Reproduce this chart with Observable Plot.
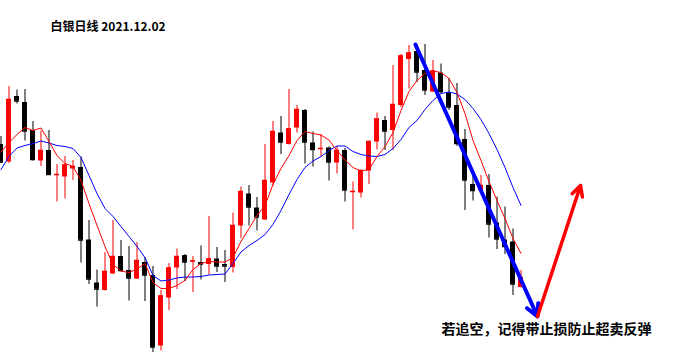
<!DOCTYPE html>
<html>
<head>
<meta charset="utf-8">
<script src="https://cdn.jsdelivr.net/npm/d3@7"></script>
<script src="https://cdn.jsdelivr.net/npm/@observablehq/plot@0.6"></script>
<style>
  html, body { margin: 0; padding: 0; background: #fff; }
  #chart svg { display: block; }
</style>
</head>
<body>
<div id="chart"></div>
<script>
// Silver daily candles (approximate prices)
const opens  = [23.12,22.77,24.08,23.96,23.40,22.79,23.00,22.50,22.47,22.63,22.66,21.21,20.35,20.20,20.53,20.88,20.60,20.43,20.76,20.50,19.09,20.05,20.65,20.90,20.77,20.76,20.72,20.83,20.72,20.66,21.49,22.13,21.85,21.61,22.35,23.35,23.12,23.45,23.80,23.15,23.02,23.05,22.75,23.00,22.16,22.15,22.59,23.17,23.60,23.40,23.90,24.82,24.98,24.60,24.17,24.55,24.15,23.90,23.22,22.32,22.20,22.30,21.55,21.21,21.17,20.26];
const highs  = [23.28,24.28,24.21,24.22,23.58,23.39,23.40,22.72,22.88,22.80,22.87,21.60,20.61,20.96,21.60,21.20,21.08,21.16,20.86,20.68,20.20,20.74,21.03,20.92,20.88,21.09,21.68,21.06,21.00,21.75,22.27,22.30,22.06,23.12,23.58,23.68,24.22,23.90,23.82,23.37,23.32,23.07,23.08,23.04,22.37,22.61,23.19,23.75,23.68,24.70,24.92,25.10,25.12,25.12,24.80,24.73,24.44,24.34,23.42,22.49,22.50,22.52,22.07,21.87,21.43,20.60];
const lows   = [22.74,22.74,23.93,23.19,22.79,22.68,22.50,21.97,22.03,22.40,20.75,20.32,19.87,20.19,20.52,20.57,19.99,20.42,19.98,18.96,18.99,19.80,20.22,20.38,20.16,20.41,20.51,20.56,20.36,20.55,21.24,21.49,21.39,21.60,22.28,22.92,23.11,23.35,22.73,22.67,22.87,22.39,22.53,21.97,21.41,22.05,22.32,23.01,23.00,23.00,23.86,24.23,24.36,24.10,24.16,24.13,23.80,23.08,21.80,21.99,22.19,21.25,21.02,20.92,20.10,20.25];
const closes = [22.77,24.02,23.99,23.39,22.82,23.00,22.52,22.52,22.71,22.68,21.21,20.43,20.23,20.58,20.88,20.60,20.45,20.80,20.51,19.07,20.09,20.65,20.88,20.77,20.79,20.73,20.83,20.69,20.69,21.50,22.18,21.87,21.67,22.40,23.38,23.17,23.43,23.82,23.17,23.02,23.04,22.77,23.00,22.21,22.18,22.60,23.18,23.63,23.39,23.92,24.89,24.95,24.57,24.21,24.59,24.18,23.87,23.14,22.41,22.20,22.30,21.53,21.23,21.08,20.33,20.46];
// Moving averages as drawn (fast = red, slow = blue)
const maFast = [22.97,23.16,23.32,23.46,23.40,23.45,23.18,22.90,22.74,22.68,22.40,21.94,21.50,21.08,20.72,20.59,20.56,20.63,20.74,20.36,20.24,20.24,20.30,20.40,20.62,20.74,20.78,20.77,20.77,20.86,21.18,21.44,21.70,21.90,22.32,22.64,22.90,23.20,23.38,23.34,23.31,23.21,23.00,22.81,22.66,22.59,22.62,22.88,23.08,23.36,23.80,24.18,24.40,24.54,24.59,24.56,24.44,24.16,23.74,23.20,22.80,22.38,22.00,21.64,21.24,20.94];
const maSlow = [22.62,22.88,23.05,23.10,23.14,23.19,23.15,23.10,23.08,23.04,22.86,22.50,22.14,21.84,21.68,21.48,21.28,21.08,20.86,20.50,20.39,20.41,20.45,20.47,20.47,20.48,20.51,20.52,20.53,20.74,20.97,21.10,21.20,21.32,21.52,21.80,22.12,22.42,22.66,22.79,22.88,23.00,23.09,23.09,22.98,22.92,22.89,22.88,22.92,23.04,23.22,23.46,23.60,23.82,24.00,24.14,24.17,24.13,24.02,23.84,23.62,23.34,23.02,22.66,22.26,21.90];
// Annotation arrows (bar index, price)
const downArrow = {x1: 51.8, y1: 25.12, x2: 67.06, y2: 19.68};
const upArrow   = {x1: 67.06, y1: 19.68, x2: 72.44, y2: 22.30};
const titleText = "白银日线 2021.12.02";
const captionText = "若追空，记得带止损防止超卖反弹";

const candles = opens.map((o, i) => ({i, open: o, high: highs[i], low: lows[i], close: closes[i], up: closes[i] >= o}));
const maFastData = maFast.map((v, i) => ({i, v}));
const maSlowData = maSlow.map((v, i) => ({i, v}));
const colorOf = d => d.up ? "#ff0000" : "#000000";
const half = 0.31;

const chart = Plot.plot({
  width: 694,
  height: 363,
  margin: 0,
  x: {type: "linear", domain: [-0.0625, 86.6875], axis: null},
  y: {type: "linear", domain: [18.74, 26], axis: null},
  style: {background: "#ffffff"},
  marks: [
    Plot.ruleX(candles, {x: "i", y1: "low", y2: "high", stroke: colorOf, strokeWidth: 1}),
    Plot.rect(candles, {x1: d => d.i - half, x2: d => d.i + half, y1: d => Math.min(d.open, d.close), y2: d => Math.max(d.open, d.close), fill: colorOf}),
    Plot.ruleY(candles, {y: "close", x1: d => d.i - half, x2: d => d.i + half, stroke: colorOf, strokeWidth: 1.5}),
    Plot.line(maSlowData, {x: "i", y: "v", stroke: "#0000ff", strokeWidth: 1}),
    Plot.line(maFastData, {x: "i", y: "v", stroke: "#ff0000", strokeWidth: 1}),
    Plot.arrow([downArrow], {x1: "x1", y1: "y1", x2: "x2", y2: "y2", stroke: "#0000ff", strokeWidth: 4, headLength: 5, headAngle: 55}),
    Plot.arrow([upArrow], {x1: "x1", y1: "y1", x2: "x2", y2: "y2", stroke: "#ff0000", strokeWidth: 3.5, headLength: 5, headAngle: 55}),
    Plot.text([titleText], {frameAnchor: "top-left", dx: 50, dy: 27, textAnchor: "start", lineAnchor: "middle", fontSize: 12, fontWeight: "bold", fontFamily: "'Noto Sans CJK SC', 'DejaVu Sans', sans-serif", fill: "#000"}),
    Plot.text([captionText], {frameAnchor: "top-left", dx: 441, dy: 329, textAnchor: "start", lineAnchor: "middle", fontSize: 14, fontWeight: "bold", fontFamily: "'Noto Sans CJK SC', sans-serif", fill: "#000"})
  ]
});
document.getElementById("chart").appendChild(chart);
</script>
</body>
</html>
